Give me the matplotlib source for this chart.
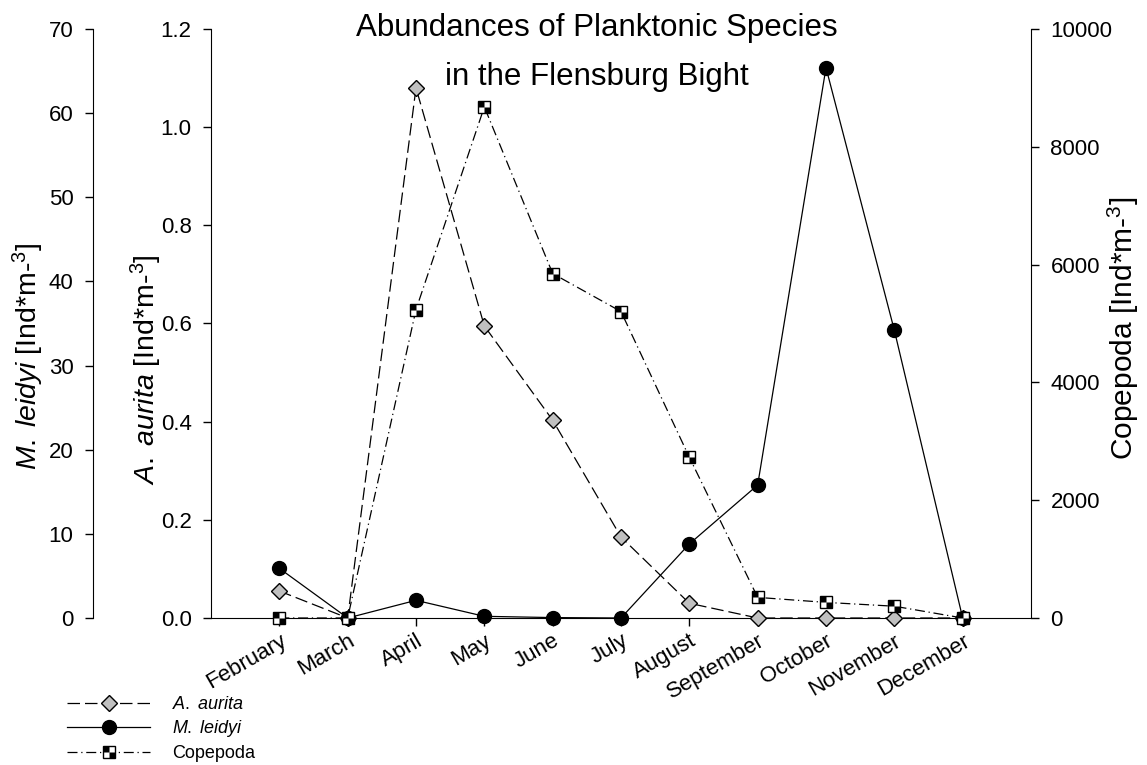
import numpy as np
import matplotlib
matplotlib.use('Agg')
import matplotlib.pyplot as plt
from matplotlib.path import Path

plt.rcParams['font.family'] = ['Liberation Sans', 'DejaVu Sans']
plt.rcParams['mathtext.fontset'] = 'custom'
plt.rcParams['mathtext.rm'] = 'Liberation Sans'
plt.rcParams['mathtext.it'] = 'Liberation Sans:italic'

months = ['February', 'March', 'April', 'May', 'June', 'July', 'August',
          'September', 'October', 'November', 'December']
aurita = [0.055, 0.0, 1.08, 0.595, 0.403, 0.165, 0.03, 0.0, 0.0, 0.0, 0.0]
leidyi = [5.9, 0.0, 2.1, 0.2, 0.05, 0.0, 8.8, 15.8, 65.4, 34.2, 0.0]
copepoda = [0, 0, 5237, 8678, 5848, 5203, 2729, 350, 265, 200, 0]

W, H = 1147, 765
fig = plt.figure(figsize=(W / 100, H / 100), dpi=100)
ax = fig.add_axes([211 / W, 1 - 618 / H, 820 / W, 589 / H])
ax_m = ax.twinx()
ax_c = ax.twinx()

x = np.arange(1, len(months) + 1)

# checkered marker for Copepoda: two black quadrants over a white square
quad = Path([(-0.5, 0), (0, 0), (0, 0.5), (-0.5, 0.5), (-0.5, 0),
             (0, -0.5), (0.5, -0.5), (0.5, 0), (0, 0), (0, -0.5)],
            [1, 2, 2, 2, 79, 1, 2, 2, 2, 79])

la, = ax.plot(x, aurita, color='black', lw=0.9, dashes=(10, 4), marker='D',
              ms=8.5, mfc='#c0c0c0', mec='black', mew=1.0, clip_on=False, zorder=3)
lm, = ax_m.plot(x, leidyi, color='black', lw=0.9, marker='o', ms=10,
                mfc='black', mec='black', clip_on=False, zorder=3)
lc, = ax_c.plot(x, copepoda, color='black', lw=0.9, dashes=(8, 3, 1, 3), marker='s',
                ms=9, mfc='white', mec='black', mew=1.0, clip_on=False, zorder=3)
lq, = ax_c.plot(x, copepoda, ls='none', marker=quad, ms=9, mfc='black', mec='none',
                clip_on=False, zorder=4)

ax.set_xlim(0, 12)
ax.set_ylim(0, 1.2)
ax_m.set_ylim(0, 70)
ax_c.set_ylim(0, 10000)

ax.set_xticks(x)
ax.set_xticklabels(months, rotation=30, ha='right', va='top', rotation_mode='anchor',
                   fontsize=17)
ax.set_yticks(np.arange(0, 1.21, 0.2))
ax.set_yticklabels(['%.1f' % v for v in np.arange(0, 1.21, 0.2)])
ax_m.set_yticks(np.arange(0, 71, 10))
ax_c.set_yticks(np.arange(0, 10001, 2000))

for a in (ax, ax_m, ax_c):
    a.spines['top'].set_visible(False)
    a.tick_params(direction='out', length=6, width=1, labelsize=16, pad=8)
ax.spines['right'].set_visible(False)
ax.tick_params(axis='x', pad=3)
ax_m.spines['right'].set_visible(False)
ax_m.spines['bottom'].set_visible(False)
ax_m.yaxis.tick_left()
ax_m.spines['left'].set_position(('axes', (93 - 211) / 820))
ax_c.spines['left'].set_visible(False)
ax_c.spines['bottom'].set_visible(False)

fig.text(597 / W, 1 - 28 / H, 'Abundances of Planktonic Species', ha='center', va='center', fontsize=22.5)
fig.text(597 / W, 1 - 77 / H, 'in the Flensburg Bight', ha='center', va='center', fontsize=22.5)

fig.text(28 / W, 1 - 242 / H, r'$\mathit{M.\;leidyi}$ [Ind*m-$^{3}$]', rotation=90,
         ha='center', va='top', fontsize=20.5)
fig.text(146 / W, 1 - 254 / H, r'$\mathit{A.\;aurita}$ [Ind*m-$^{3}$]', rotation=90,
         ha='center', va='top', fontsize=20.5)
fig.text(1123 / W, 1 - 197 / H, r'Copepoda [Ind*m-$^{3}$]', rotation=90,
         ha='center', va='top', fontsize=21.5)

leg = fig.legend([la, lm, (lc, lq)], [r'$\mathit{A.\;aurita}$', r'$\mathit{M.\;leidyi}$', 'Copepoda'],
                 loc='upper left', bbox_to_anchor=(67 / W, 1 - 696 / H), frameon=False,
                 fontsize=13, handlelength=4.6, handletextpad=1.2, labelspacing=0.3,
                 borderpad=0, borderaxespad=0, numpoints=1)

fig.savefig('out.png', dpi=100)
